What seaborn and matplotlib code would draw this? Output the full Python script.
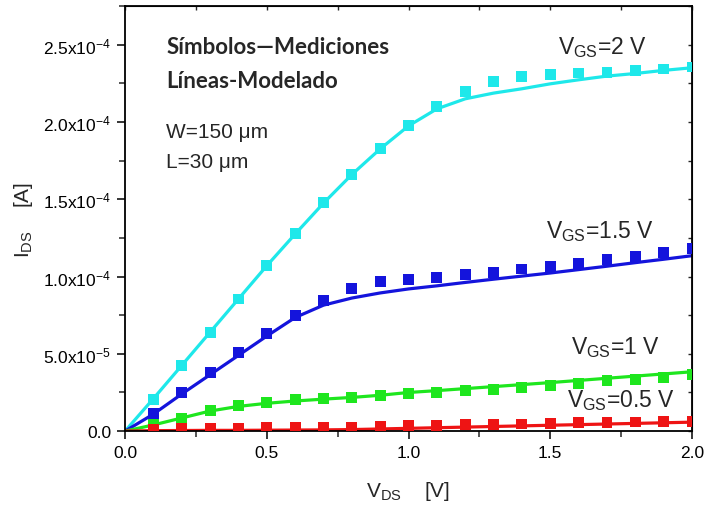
import matplotlib
matplotlib.use("Agg")
import matplotlib.pyplot as plt
from matplotlib.ticker import MultipleLocator, FuncFormatter
import pandas as pd
import seaborn as sns

# Drain voltage for measured points and for model curves
vds_meas = [0.1, 0.2, 0.3, 0.4, 0.5, 0.6, 0.7, 0.8, 0.9, 1.0,
            1.1, 1.2, 1.3, 1.4, 1.5, 1.6, 1.7, 1.8, 1.9, 2.0]
vds_model = [0.0, 0.1, 0.2, 0.3, 0.4, 0.5, 0.6, 0.7, 0.8, 0.9, 1.0,
             1.1, 1.2, 1.3, 1.4, 1.5, 1.6, 1.7, 1.8, 1.9, 2.0]

# Measured drain current (units of 1e-4 A)
meas_2v = [0.203, 0.423, 0.639, 0.855, 1.07, 1.276, 1.477, 1.66, 1.83, 1.977,
           2.10, 2.198, 2.262, 2.295, 2.306, 2.317, 2.323, 2.334, 2.343, 2.356]
meas_15v = [0.117, 0.25, 0.38, 0.51, 0.633, 0.747, 0.844, 0.92, 0.967, 0.984,
            0.995, 1.012, 1.028, 1.049, 1.066, 1.082, 1.108, 1.129, 1.157, 1.179]
meas_1v = [0.045, 0.084, 0.132, 0.164, 0.186, 0.203, 0.212, 0.22, 0.233, 0.244,
           0.25, 0.261, 0.272, 0.283, 0.293, 0.311, 0.326, 0.337, 0.348, 0.365]
meas_05v = [0.012, 0.017, 0.019, 0.02, 0.021, 0.022, 0.023, 0.025, 0.028, 0.034,
            0.037, 0.04, 0.043, 0.046, 0.05, 0.053, 0.056, 0.059, 0.062, 0.065]

# Modelled drain current (units of 1e-4 A)
model_2v = [0.0, 0.21, 0.425, 0.64, 0.855, 1.07, 1.275, 1.475, 1.66, 1.826, 1.975,
            2.085, 2.15, 2.187, 2.215, 2.247, 2.273, 2.297, 2.314, 2.334, 2.351]
model_15v = [0.0, 0.11, 0.24, 0.365, 0.49, 0.615, 0.735, 0.815, 0.861, 0.894, 0.92,
             0.94, 0.962, 0.983, 1.003, 1.023, 1.045, 1.067, 1.09, 1.112, 1.135]
model_1v = [0.0, 0.04, 0.085, 0.13, 0.16, 0.18, 0.195, 0.207, 0.218, 0.232, 0.25,
            0.262, 0.275, 0.288, 0.301, 0.314, 0.328, 0.342, 0.356, 0.37, 0.384]
model_05v = [0.0, 0.003, 0.004, 0.005, 0.005, 0.006, 0.007, 0.008, 0.01, 0.014, 0.018,
             0.022, 0.026, 0.03, 0.034, 0.038, 0.042, 0.046, 0.05, 0.054, 0.058]

vgs_labels = ["2 V", "1.5 V", "1 V", "0.5 V"]
colors = ["#1EE8EA", "#1414DC", "#1EE61E", "#EE1414"]
scale = 1e-4

meas_df = pd.concat([
    pd.DataFrame({"vds": vds_meas, "ids": [v * scale for v in vals], "vgs": lab})
    for vals, lab in zip([meas_2v, meas_15v, meas_1v, meas_05v], vgs_labels)
])
model_df = pd.concat([
    pd.DataFrame({"vds": vds_model, "ids": [v * scale for v in vals], "vgs": lab})
    for vals, lab in zip([model_2v, model_15v, model_1v, model_05v], vgs_labels)
])

sns.set_style("ticks")
plt.rcParams["font.family"] = ["Liberation Sans", "DejaVu Sans"]
plt.rcParams["mathtext.fontset"] = "custom"
plt.rcParams["mathtext.rm"] = "Liberation Sans"
plt.rcParams["mathtext.it"] = "Liberation Sans"
plt.rcParams["mathtext.sf"] = "Liberation Sans"

fig = plt.figure(figsize=(7.04, 5.06), dpi=100)
ax = fig.add_axes([0.1776, 0.146, 0.8054, 0.840])

palette = dict(zip(vgs_labels, colors))
sns.lineplot(data=model_df, x="vds", y="ids", hue="vgs", palette=palette,
             linewidth=2.3, legend=False, ax=ax, zorder=2)
sns.scatterplot(data=meas_df, x="vds", y="ids", hue="vgs", palette=palette,
                marker="s", s=62, linewidth=0, legend=False, ax=ax, zorder=3)

ax.set_xlim(0, 2.0)
ax.set_ylim(0, 2.75e-4)
ax.xaxis.set_major_locator(MultipleLocator(0.5))
ax.xaxis.set_minor_locator(MultipleLocator(0.25))
ax.yaxis.set_major_locator(MultipleLocator(0.5e-4))
ax.yaxis.set_minor_locator(MultipleLocator(0.25e-4))


def sci_fmt(v, pos):
    if abs(v) < 1e-12:
        return "0.0"
    exp = int(f"{v:e}".split("e")[1])
    mant = v / 10 ** exp
    return rf"{mant:.1f}x10$^{{\mathregular{{{exp}}}}}$"


ax.yaxis.set_major_formatter(FuncFormatter(sci_fmt))
ax.xaxis.set_major_formatter(FuncFormatter(lambda v, p: f"{v:.1f}"))

ax.tick_params(which="major", direction="out", length=6, width=1.1, labelsize=12.5,
               colors="black", pad=4)
ax.tick_params(which="minor", direction="out", length=4, width=1.1)
for sp in ax.spines.values():
    sp.set_linewidth(1.3)
    sp.set_color("black")
    sp.set_visible(True)

# inward ticks on the top and right frame
top = ax.secondary_xaxis("top")
top.xaxis.set_major_locator(MultipleLocator(0.5))
top.xaxis.set_minor_locator(MultipleLocator(0.25))
top.tick_params(which="both", direction="in", length=3, width=1.0, labeltop=False)
right = ax.secondary_yaxis("right")
right.yaxis.set_major_locator(MultipleLocator(0.5e-4))
right.yaxis.set_minor_locator(MultipleLocator(0.25e-4))
right.tick_params(which="both", direction="in", length=3, width=1.0, labelright=False)

ax.set_xlabel(r"V$_{\mathregular{DS}}$    [V]", fontsize=15, labelpad=14)
ax.set_ylabel(r"I$_{\mathregular{DS}}$    [A]", fontsize=15, labelpad=6)

# curve labels
label_pos = [(1.527, 2.49e-4), (1.485, 1.295e-4), (1.573, 0.544e-4), (1.56, 0.207e-4)]
for lab, (x, y) in zip(vgs_labels, label_pos):
    ax.text(x, y, rf"V$_{{\mathregular{{GS}}}}$={lab}", fontsize=16.5, va="center", ha="left")

ax.text(0.145, 2.487e-4, "Símbolos—Mediciones", fontsize=16, fontweight="bold",
        family=["Lato", "DejaVu Sans"], va="center", ha="left")
ax.text(0.145, 2.267e-4, "Líneas-Modelado", fontsize=16, fontweight="bold",
        family=["Lato", "DejaVu Sans"], va="center", ha="left")
ax.text(0.145, 1.937e-4, "W=150 μm", fontsize=15, va="center", ha="left")
ax.text(0.145, 1.742e-4, "L=30 μm", fontsize=15, va="center", ha="left")

fig.savefig("out.png", dpi=100)
